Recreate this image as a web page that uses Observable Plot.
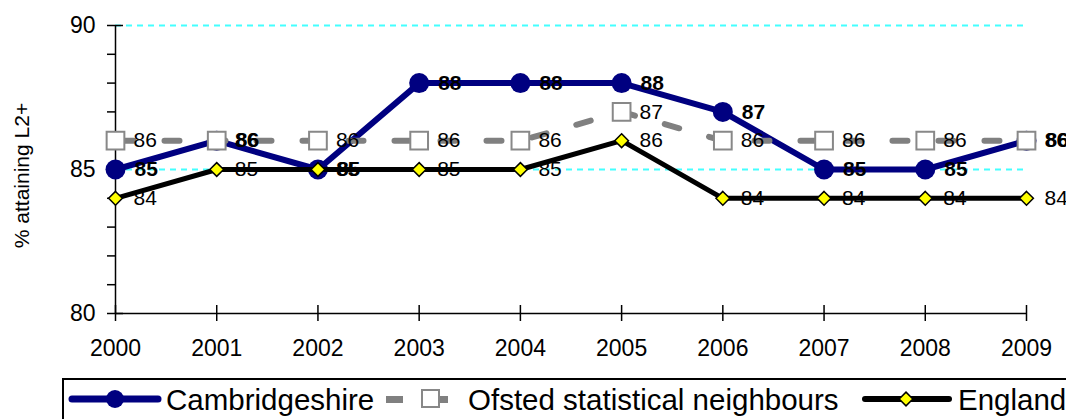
<!DOCTYPE html>
<html>
<head>
<meta charset="utf-8">
<script src="https://cdn.jsdelivr.net/npm/d3@7"></script>
<script src="https://cdn.jsdelivr.net/npm/@observablehq/plot@0.6"></script>
<style>
  body { margin: 0; background: #fff; font-family: "Liberation Sans", Arial, sans-serif; }
  #wrap { position: relative; width: 1066px; height: 419px; overflow: hidden; }
</style>
</head>
<body>
<div id="wrap"></div>
<script>
const years = [2000, 2001, 2002, 2003, 2004, 2005, 2006, 2007, 2008, 2009];
const cambridgeshire = [85, 86, 85, 88, 88, 88, 87, 85, 85, 86];
const ofsted = [86, 86, 86, 86, 86, 87, 86, 86, 86, 86];
const england = [84, 85, 85, 85, 85, 86, 84, 84, 84, 84];
const seriesNames = ["Cambridgeshire", "Ofsted statistical neighbours", "England"];
const yTicksMajor = [80, 85, 90];
const yTicksMinor = [80, 81, 82, 83, 84, 85, 86, 87, 88, 89, 90];
const gridValues = [85, 90];
const yTitle = "% attaining L2+";

const camb = years.map((x, i) => ({x, y: cambridgeshire[i]}));
const ofs = years.map((x, i) => ({x, y: ofsted[i]}));
const eng = years.map((x, i) => ({x, y: england[i]}));

const font = '"Liberation Sans", Arial, sans-serif';

const chart = Plot.plot({
  width: 1066,
  height: 378,
  marginLeft: 115,
  marginRight: 40,
  marginTop: 25,
  marginBottom: 65,
  style: {fontFamily: font, background: "white", overflow: "visible"},
  x: {type: "linear", domain: [2000, 2009]},
  y: {domain: [80, 90]},
  marks: [
    Plot.ruleY(gridValues, {x1: 2000, x2: 2009, stroke: "#44ffff", strokeWidth: 2, strokeDasharray: "6,5"}),
    // axes lines
    Plot.ruleX([2000], {y1: 80, y2: 90, stroke: "black", strokeWidth: 1.5}),
    Plot.ruleY([80], {x1: 2000, x2: 2009, stroke: "black", strokeWidth: 1.5}),
    // y ticks
    Plot.axisY({ticks: yTicksMinor, tickSize: 8, text: null, stroke: "black", strokeWidth: 1.5, label: null}),
    Plot.axisY({ticks: yTicksMajor, tickSize: -8, text: null, stroke: "black", strokeWidth: 1.5, label: null}),
    Plot.axisY({ticks: yTicksMajor, tickSize: 0, tickPadding: 20, fontSize: 23, fill: "black", label: null}),
    // x ticks
    Plot.axisX({ticks: years, tickSize: 8, tickPadding: 18, tickFormat: d => String(d), fontSize: 23, fill: "black", stroke: "black", strokeWidth: 1.5, label: null}),
    Plot.axisX({ticks: years, tickSize: -8, text: null, stroke: "black", strokeWidth: 1.5, label: null}),
    // y title
    Plot.text([yTitle], {frameAnchor: "left", textAnchor: "middle", dx: -93, dy: 6, rotate: -90, fontSize: 21, fill: "black"}),
    // Cambridgeshire
    Plot.line(camb, {x: "x", y: "y", stroke: "#000080", strokeWidth: 6}),
    Plot.dot(camb, {x: "x", y: "y", r: 10, fill: "#000080", stroke: "none"}),
    // Ofsted
    Plot.line(ofs, {x: "x", y: "y", stroke: "#808080", strokeWidth: 6, strokeDasharray: "15,31", strokeDashoffset: -3}),
    Plot.dot(ofs, {x: "x", y: "y", symbol: "square", r: 10, fill: "white", stroke: "#888888", strokeWidth: 2}),
    // England
    Plot.line(eng, {x: "x", y: "y", stroke: "black", strokeWidth: 5}),
    Plot.dot(eng, {x: "x", y: "y", symbol: "diamond2", r: 6.2, fill: "#ffff00", stroke: "black", strokeWidth: 1.5}),
    // labels
    Plot.text(camb, {x: "x", y: "y", text: d => String(d.y), dx: 19, textAnchor: "start", fontSize: 21, fontWeight: "bold", fill: "black"}),
    Plot.text(ofs, {x: "x", y: "y", text: d => String(d.y), dx: 18, textAnchor: "start", fontSize: 21, fill: "black"}),
    Plot.text(eng, {x: "x", y: "y", text: d => String(d.y), dx: 18, textAnchor: "start", fontSize: 21, fill: "black"})
  ]
});

const wrap = document.getElementById("wrap");
wrap.appendChild(chart);

// Legend below the chart
const leg = d3.select(wrap).append("svg")
  .attr("width", 1066).attr("height", 41)
  .style("position", "absolute").style("left", "0px").style("top", "378px")
  .style("font-family", font);
leg.append("rect").attr("x", 63).attr("y", 1).attr("width", 1100).attr("height", 60)
  .attr("fill", "white").attr("stroke", "black").attr("stroke-width", 2);
const ly = 21;
// Cambridgeshire symbol
leg.append("line").attr("x1", 72).attr("x2", 158).attr("y1", ly).attr("y2", ly)
  .attr("stroke", "#000080").attr("stroke-width", 7).attr("stroke-linecap", "round");
leg.append("circle").attr("cx", 115).attr("cy", ly).attr("r", 9).attr("fill", "#000080");
leg.append("text").attr("x", 166).attr("y", ly + 11).attr("font-size", 29.5).text(seriesNames[0]);
// Ofsted symbol
leg.append("rect").attr("x", 386).attr("y", ly - 3).attr("width", 17).attr("height", 7).attr("fill", "#808080");
leg.append("rect").attr("x", 439).attr("y", ly - 3).attr("width", 9).attr("height", 7).attr("fill", "#808080");
leg.append("rect").attr("x", 422).attr("y", ly - 9).attr("width", 17).attr("height", 17)
  .attr("fill", "white").attr("stroke", "#888888").attr("stroke-width", 2);
leg.append("text").attr("x", 468).attr("y", ly + 11).attr("font-size", 29.5).text(seriesNames[1]);
// England symbol
leg.append("line").attr("x1", 865).attr("x2", 949).attr("y1", ly).attr("y2", ly)
  .attr("stroke", "black").attr("stroke-width", 6).attr("stroke-linecap", "round");
leg.append("path").attr("d", d3.symbol(d3.symbolDiamond2, 120)())
  .attr("transform", `translate(906,${ly})`).attr("fill", "#ffff00").attr("stroke", "black").attr("stroke-width", 1.5);
leg.append("text").attr("x", 958).attr("y", ly + 11).attr("font-size", 29.5).text(seriesNames[2]);
</script>
</body>
</html>
